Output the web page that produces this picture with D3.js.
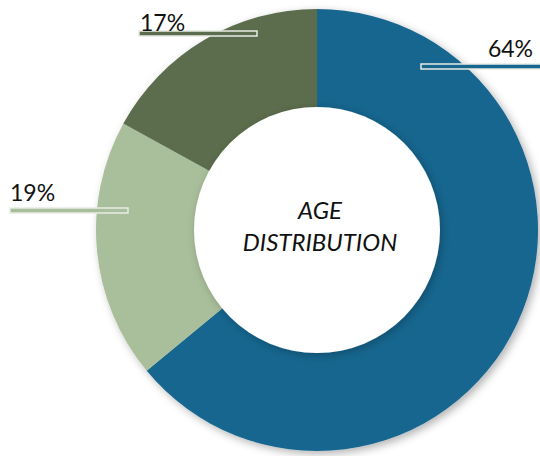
<!DOCTYPE html>
<html>
<head>
<meta charset="utf-8">
<script src="https://cdn.jsdelivr.net/npm/d3@7"></script>
<style>
  body { margin: 0; background: #fff; }
  svg { display: block; }
</style>
</head>
<body>
<div id="chart"></div>
<script>
// Chart data
const groups = ['Group A', 'Group B', 'Group C'];
const shares = [64, 19, 17];
const labels = ['64%', '19%', '17%'];
const colors = ['#17668f', '#a9bf9b', '#5b6d4e'];
const centerLines = ['AGE', 'DISTRIBUTION'];

const width = 540;
const height = 456;
const cx = 317, cy = 230;
const outerR = 221;
const innerR = 123;

// Leader line placement (layout only)
const leaders = [
    { x: 421, y: 64, w: 122, tx: 533, ty: 57, anchor: 'end' },
    { x: 10, y: 208, w: 118, tx: 10, ty: 201, anchor: 'start' },
    { x: 139, y: 31, w: 118, tx: 140, ty: 31, anchor: 'start' }
];

const svg = d3.select('#chart')
    .append('svg')
    .attr('width', width)
    .attr('height', height);

const defs = svg.append('defs');
const shadow = defs.append('filter')
    .attr('id', 'shadow')
    .attr('x', '-20%').attr('y', '-20%')
    .attr('width', '140%').attr('height', '140%');
shadow.append('feDropShadow')
    .attr('dx', 3).attr('dy', 3)
    .attr('stdDeviation', 4)
    .attr('flood-color', '#000')
    .attr('flood-opacity', 0.3);

const innerShadow = defs.append('filter')
    .attr('id', 'innerShadow')
    .attr('x', '-20%').attr('y', '-20%')
    .attr('width', '140%').attr('height', '140%');
innerShadow.append('feDropShadow')
    .attr('dx', 2).attr('dy', 2)
    .attr('stdDeviation', 4)
    .attr('flood-color', '#000')
    .attr('flood-opacity', 0.25);

const pie = d3.pie().sort(null).value(d => d);
const arc = d3.arc().innerRadius(0).outerRadius(outerR);

const g = svg.append('g')
    .attr('transform', `translate(${cx},${cy})`);

// Slices
g.append('g')
    .attr('filter', 'url(#shadow)')
    .selectAll('path')
    .data(pie(shares))
    .join('path')
    .attr('d', arc)
    .attr('fill', (d, i) => colors[i]);

// Hole
g.append('circle')
    .attr('r', innerR)
    .attr('fill', '#fff')
    .attr('filter', 'url(#innerShadow)');

// Center title
g.append('text')
    .attr('text-anchor', 'middle')
    .attr('font-family', 'Lato, "Open Sans", sans-serif')
    .attr('font-style', 'italic')
    .attr('font-size', 24)
    .attr('fill', '#111')
    .selectAll('tspan')
    .data(centerLines)
    .join('tspan')
    .attr('x', 3)
    .attr('y', (d, i) => -11 + i * 32)
    .text(d => d);

// Labels with leader bars
const lab = svg.append('g');
leaders.forEach((p, i) => {
    lab.append('rect')
        .attr('x', p.x)
        .attr('y', p.y)
        .attr('width', p.w)
        .attr('height', 5)
        .attr('fill', colors[i])
        .attr('stroke', '#e8ece4')
        .attr('stroke-width', 1.5);
    lab.append('text')
        .attr('x', p.tx)
        .attr('y', p.ty)
        .attr('text-anchor', p.anchor)
        .attr('font-family', 'Lato, "Open Sans", sans-serif')
        .attr('font-size', 23)
        .attr('fill', '#111')
        .text(labels[i]);
});
</script>
</body>
</html>
